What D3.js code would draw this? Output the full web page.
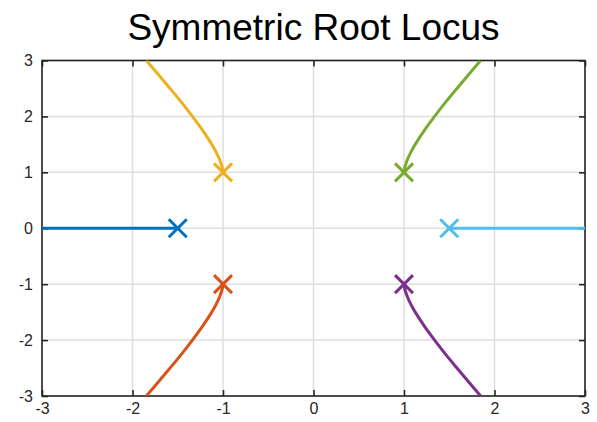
<!DOCTYPE html>
<html>
<head>
<meta charset="utf-8">
<script src="https://cdn.jsdelivr.net/npm/d3@7"></script>
<style>
  html, body { margin: 0; padding: 0; background: #fff; }
  svg { display: block; font-family: "Liberation Sans", Arial, Helvetica, sans-serif; }
</style>
</head>
<body>
<svg id="chart" width="597" height="422"></svg>
<script>
// Open-loop poles of the symmetric root locus (re, im)
const poles = [[-1.5, 0], [-1, -1], [-1, 1], [1, -1], [1, 1], [1.5, 0]];

// Branch colours, one per pole in the order above
const branchColors = ["#0072BD", "#D95319", "#EDB120", "#7E2F8E", "#77AC30", "#4DBEEE"];

// Locus branches, each a list of [re, im] points starting at its pole
const branchReal1 = [[-1.5, 0], [-3, 0]];
const branchLowerLeft = [[-1, -1], [-1.004, -1.05], [-1.011, -1.1], [-1.031, -1.2], [-1.057, -1.3], [-1.089, -1.4], [-1.124, -1.5], [-1.225, -1.75], [-1.338, -2], [-1.458, -2.25], [-1.585, -2.5], [-1.715, -2.75], [-1.847, -3]];
const branchUpperLeft = [[-1, 1], [-1.004, 1.05], [-1.011, 1.1], [-1.031, 1.2], [-1.057, 1.3], [-1.089, 1.4], [-1.124, 1.5], [-1.225, 1.75], [-1.338, 2], [-1.458, 2.25], [-1.585, 2.5], [-1.715, 2.75], [-1.847, 3]];
const branchLowerRight = [[1, -1], [1.004, -1.05], [1.011, -1.1], [1.031, -1.2], [1.057, -1.3], [1.089, -1.4], [1.124, -1.5], [1.225, -1.75], [1.338, -2], [1.458, -2.25], [1.585, -2.5], [1.715, -2.75], [1.847, -3]];
const branchUpperRight = [[1, 1], [1.004, 1.05], [1.011, 1.1], [1.031, 1.2], [1.057, 1.3], [1.089, 1.4], [1.124, 1.5], [1.225, 1.75], [1.338, 2], [1.458, 2.25], [1.585, 2.5], [1.715, 2.75], [1.847, 3]];
const branchReal2 = [[1.5, 0], [3, 0]];
const branches = [branchReal1, branchLowerLeft, branchUpperLeft, branchLowerRight, branchUpperRight, branchReal2];

// Axis ticks
const xTicks = [-3, -2, -1, 0, 1, 2, 3];
const yTicks = [-3, -2, -1, 0, 1, 2, 3];
const titleText = "Symmetric Root Locus";

const svg = d3.select("#chart");
const plot = { left: 42, right: 585, top: 60.5, bottom: 396 };
const axisColor = "#262626";

const x = d3.scaleLinear().domain([-3, 3]).range([plot.left, plot.right]);
const y = d3.scaleLinear().domain([-3, 3]).range([plot.bottom, plot.top]);

svg.append("defs").append("clipPath").attr("id", "plot-clip")
  .append("rect")
  .attr("x", plot.left).attr("y", plot.top)
  .attr("width", plot.right - plot.left).attr("height", plot.bottom - plot.top);

// Grid
const grid = svg.append("g").attr("stroke", "#dfdfdf").attr("stroke-width", 1.5);
grid.selectAll("line.gx").data(xTicks).join("line").attr("class", "gx")
  .attr("x1", d => x(d)).attr("x2", d => x(d))
  .attr("y1", plot.top).attr("y2", plot.bottom);
grid.selectAll("line.gy").data(yTicks).join("line").attr("class", "gy")
  .attr("y1", d => y(d)).attr("y2", d => y(d))
  .attr("x1", plot.left).attr("x2", plot.right);

// Axes with inward ticks on all four sides
const tickLen = 6;
const fmt = d => String(d);
const axisStyle = g => {
  g.select(".domain").remove();
  g.selectAll(".tick line").attr("stroke", axisColor).attr("stroke-width", 1.6);
  g.selectAll(".tick text").attr("fill", axisColor).attr("font-size", 16)
    .attr("font-family", "Liberation Sans, Arial, sans-serif");
};
svg.append("g").attr("transform", `translate(0,${plot.bottom})`)
  .call(d3.axisBottom(x).tickValues(xTicks).tickFormat(fmt).tickSizeInner(-tickLen).tickSizeOuter(0).tickPadding(7))
  .call(axisStyle);
svg.append("g").attr("transform", `translate(${plot.left},0)`)
  .call(d3.axisLeft(y).tickValues(yTicks).tickFormat(fmt).tickSizeInner(-tickLen).tickSizeOuter(0).tickPadding(9))
  .call(axisStyle);
svg.append("g").attr("transform", `translate(0,${plot.top})`)
  .call(d3.axisTop(x).tickValues(xTicks).tickFormat("").tickSizeInner(-tickLen).tickSizeOuter(0))
  .call(axisStyle);
svg.append("g").attr("transform", `translate(${plot.right},0)`)
  .call(d3.axisRight(y).tickValues(yTicks).tickFormat("").tickSizeInner(-tickLen).tickSizeOuter(0))
  .call(axisStyle);

// Box
svg.append("rect")
  .attr("x", plot.left).attr("y", plot.top)
  .attr("width", plot.right - plot.left).attr("height", plot.bottom - plot.top)
  .attr("fill", "none").attr("stroke", axisColor).attr("stroke-width", 1.6);

// Locus branches
const line = d3.line().x(d => x(d[0])).y(d => y(d[1])).curve(d3.curveCatmullRom.alpha(0.5));
const locus = svg.append("g").attr("clip-path", "url(#plot-clip)");
locus.selectAll("path").data(branches).join("path")
  .attr("d", line)
  .attr("fill", "none")
  .attr("stroke", (d, i) => branchColors[i])
  .attr("stroke-width", 3)
  .attr("stroke-linejoin", "round");

// Pole markers
const m = 9;
const markers = svg.append("g");
poles.forEach((p, i) => {
  const cx = x(p[0]), cy = y(p[1]);
  markers.append("path")
    .attr("d", `M${cx - m},${cy - m}L${cx + m},${cy + m}M${cx - m},${cy + m}L${cx + m},${cy - m}`)
    .attr("stroke", branchColors[i])
    .attr("stroke-width", 3)
    .attr("fill", "none");
});

// Title
svg.append("text")
  .attr("x", (plot.left + plot.right) / 2)
  .attr("y", 40)
  .attr("text-anchor", "middle")
  .attr("font-size", 37)
  .attr("fill", "#000")
  .text(titleText);
</script>
</body>
</html>
